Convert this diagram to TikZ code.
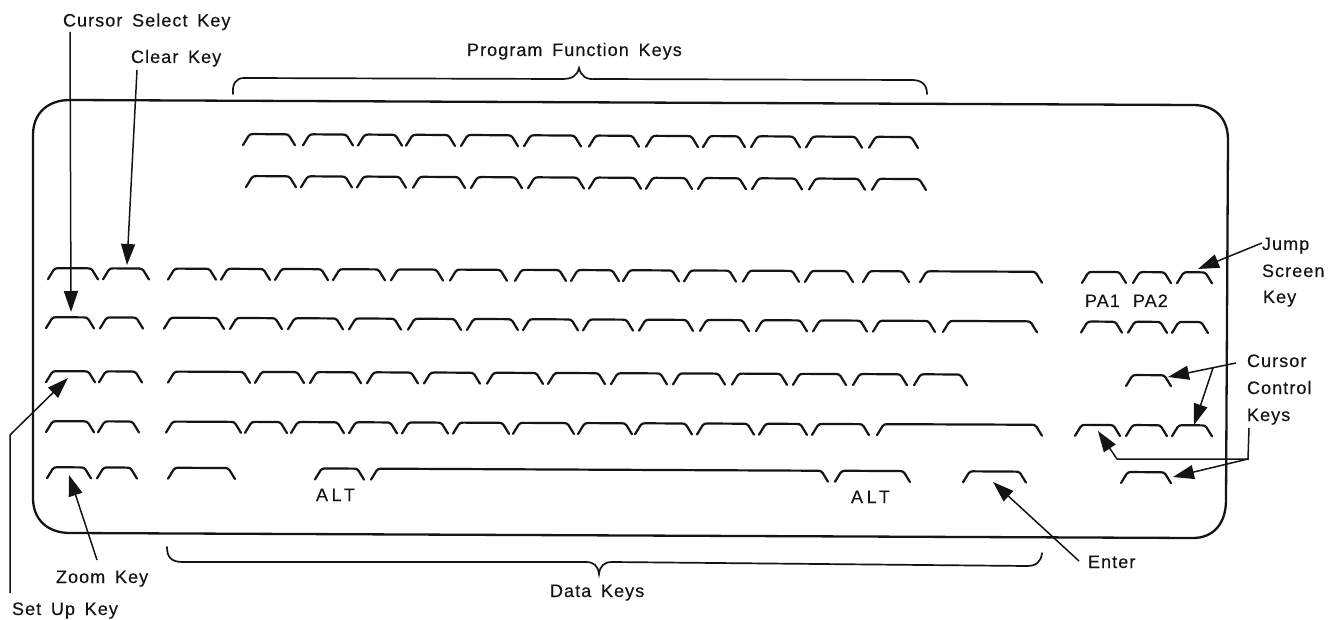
\documentclass[tikz,border=0pt]{standalone}
\usepackage{fontspec}
\setmainfont[LetterSpace=6,WordSpace=1.6,FakeBold=0.25]{Liberation Sans}
\usetikzlibrary{arrows.meta}
\definecolor{ink}{HTML}{141414}
\newcommand{\keyrow}[3]{% base y at x=0, slope, list of x1/x2
  \foreach \xa/\xb in {#3}{%
    \pgfmathsetmacro{\ya}{#1+#2*\xa}%
    \pgfmathsetmacro{\yb}{#1+#2*\xb}%
    \draw[keycap] (\xa,\ya+11) -- (\xa+5.5,\ya+2) .. controls (\xa+7,\ya+0.3) and (\xa+8,\ya) .. (\xa+10,\ya) -- (\xb-10,\yb) .. controls (\xb-8,\yb) and (\xb-7,\yb+0.3) .. (\xb-5.5,\yb+2) -- (\xb,\yb+11);
  }%
}
\tikzset{
  keycap/.style={ink,line width=2.2pt,line join=round,line cap=round},
  frameline/.style={ink,line width=2.3pt},
  brace/.style={ink,line width=1.7pt,line cap=round},
  pointer/.style={ink,line width=1.5pt,-{Triangle[length=21pt,width=14pt]}},
  lab/.style={anchor=base west,inner sep=0pt,outer sep=0pt,text=ink,font=\fontsize{18}{21}\selectfont},
  widelab/.style={lab,font=\fontsize{18}{21}\selectfont\addfontfeature{LetterSpace=20}}
}
\begin{document}
\begin{tikzpicture}[x=1pt,y=-1pt]
\useasboundingbox (0,0) rectangle (1333,620);
\fill[white] (0,0) rectangle (1333,620);
% frame
\draw[frameline] (33,135) .. controls (33,113) and (48,100) .. (70,100) -- (1193,105)
  .. controls (1215,105) and (1228,118) .. (1228,140) -- (1226,500)
  .. controls (1226,524) and (1213,538) .. (1193,538) -- (70,533)
  .. controls (48,533) and (33,520) .. (33,498) -- cycle;
% program function keys
\keyrow{133}{0.0044}{243/295,303/353,358/402,406/455,461/518,524/581,589/639,646/698,703/745,751/800,806/862,869/918}
\keyrow{175}{0.0044}{246/296,301/352,357/406,413/465,471/522,528/584,589/641,646/692,698/746,752/802,809/865,872/926}
% data rows
\keyrow{268}{0.0036}{48/98,103/149,168/216,221/270,275/328,333/385,391/443,450/507,515/566,571/619,623/679,684/736,743/799,805/853,863/909,920/1042,1082/1126,1133/1171,1177/1212}
\keyrow{317}{0.0042}{46/94,100/143,164/224,230/282,288/343,349/401,408/461,467/518,523/578,583/633,639/693,700/749,756/807,813/867,873/935,943/1037,1081/1122,1128/1167,1172/1208}
\keyrow{371}{0.0036}{46/95,99/142,168/250,255/304,310/361,367/418,424/480,487/543,548/605,611/667,673/725,732/787,793/846,853/907,914/967,1126/1171}
\keyrow{421}{0.0036}{46/94,98/139,166/241,245/287,291/344,349/397,402/448,453/509,513/574,578/632,635/692,697/754,759/807,812/869,877/1042,1075/1120,1126/1167,1172/1212}
\keyrow{467}{0.0045}{47/91,97/137,168/235,315/364,371/828,835/910,963/1026,1121/1171}
% braces
\draw[brace] (233,94) .. controls (232,84) and (236,78) .. (244,78) -- (562,79)
  .. controls (572,79) and (577,76) .. (579,68) .. controls (581,76) and (586,80) .. (596,79)
  -- (912,80) .. controls (922,80) and (927,85) .. (927,94);
\draw[brace] (167,547) .. controls (167,558) and (172,562) .. (183,562) -- (586,562)
  .. controls (594,562) and (598,566) .. (599,574) .. controls (600,566) and (604,562) .. (612,562)
  -- (1027,566) .. controls (1036,566) and (1041,562) .. (1042,553);
% labels
\node[lab] (csk) at (63,26.5) {Cursor Select Key};
\node[lab] (clk) at (131,63) {Clear Key};
\node[lab] (pfk) at (467,56) {Program Function Keys};
\node[lab] (zmk) at (56,583) {Zoom Key};
\node[lab] (suk) at (12,615) {Set Up Key};
\node[widelab] (alta) at (316,501) {ALT};
\node[widelab] (altb) at (851,503) {ALT};
\node[lab] (dtk) at (550,597) {Data Keys};
\node[lab] (pa1) at (1085,307) {PA1};
\node[lab] (pa2) at (1133,307) {PA2};
\node[lab] (jsa) at (1262,250) {Jump};
\node[lab] (jsb) at (1262,277) {Screen};
\node[lab] (jsc) at (1263,303) {Key};
\node[lab] (cca) at (1247,367) {Cursor};
\node[lab] (ccb) at (1247,394) {Control};
\node[lab] (ccc) at (1247,421) {Keys};
\node[lab] (ent) at (1088,568) {Enter};
% connector ends
\coordinate (cs0) at (70,32);   \coordinate (cs1) at (71,312);
\coordinate (cl0) at (137,70);  \coordinate (cl1) at (127,265);
\coordinate (su0) at (10,593);  \coordinate (su1) at (10,435); \coordinate (su2) at (68,378);
\coordinate (zm0) at (97,560);  \coordinate (zm1) at (69,475);
\coordinate (en0) at (1079,561);\coordinate (en1) at (993,482);
\coordinate (js0) at (1262,243);\coordinate (js1) at (1198,269);
\coordinate (cc0) at (1236,363);\coordinate (cc1) at (1168,377);
\coordinate (cc2) at (1213,368);\coordinate (cc3) at (1194,425);
\coordinate (cc4) at (1249,428);\coordinate (cc5) at (1248,459);
\coordinate (cc6) at (1117,459);\coordinate (cc7) at (1098,431);
\coordinate (cc8) at (1173,477);
% connectors
\draw[pointer] (cs0) -- (cs1);
\draw[pointer] (cl0) -- (cl1);
\draw[pointer] (su0) -- (su1) -- (su2);
\draw[pointer] (zm0) -- (zm1);
\draw[pointer] (en0) -- (en1);
\draw[pointer] (js0) -- (js1);
\draw[pointer] (cc0) -- (cc1);
\draw[pointer] (cc2) -- (cc3);
\draw[pointer] (cc4) -- (cc5) -- (cc6) -- (cc7);
\draw[pointer] (cc5) -- (cc8);
\end{tikzpicture}
\end{document}
